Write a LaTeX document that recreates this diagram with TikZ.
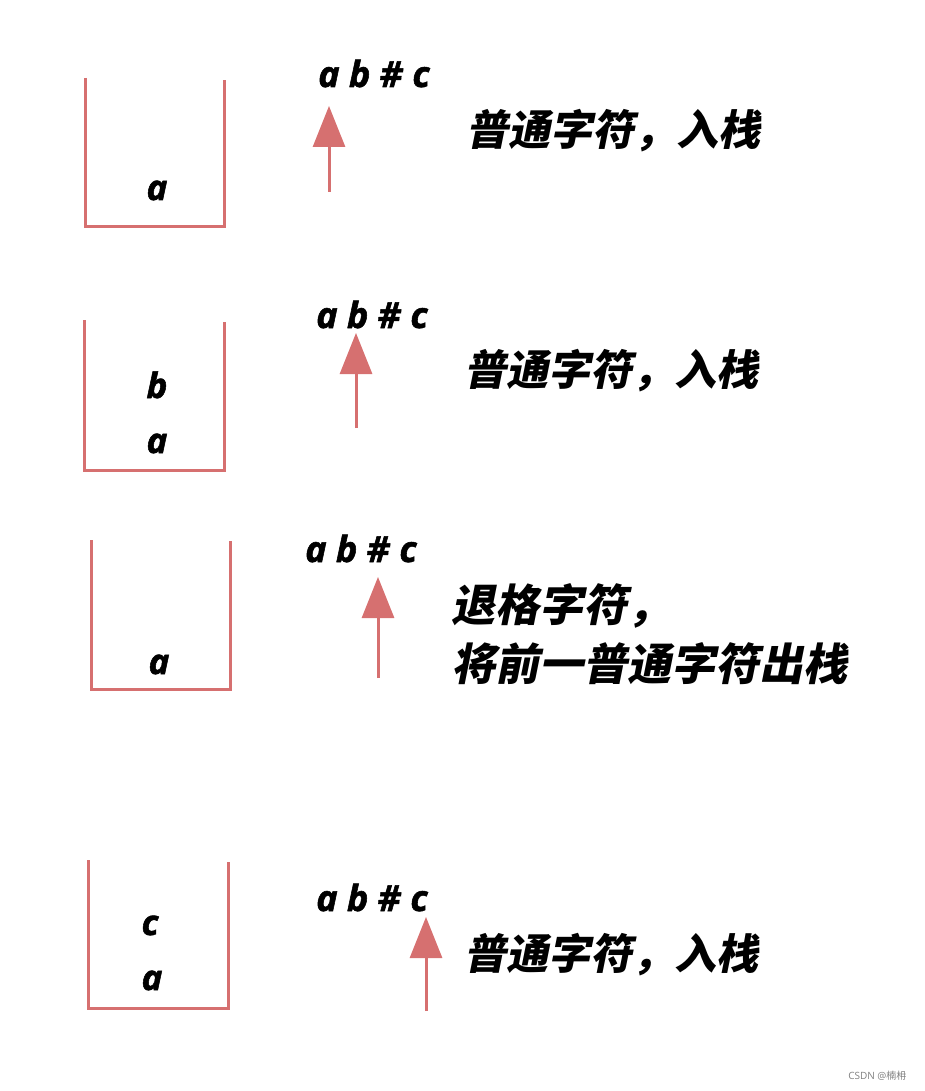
\documentclass[tikz,border=0pt]{standalone}
\usepackage{fontspec}
\setmainfont{Open Sans}[BoldItalicFont={Open Sans Bold Italic}, BoldItalicFeatures={FakeBold=1.5}]
\newfontfamily\cjk[FakeSlant=0.2]{Noto Sans CJK SC}
\newfontfamily\cjkplain{Noto Sans CJK SC}
\usetikzlibrary{arrows.meta}
\definecolor{stackred}{RGB}{214,112,112}

\begin{document}
\begin{tikzpicture}[
    x=1pt, y=-1pt,
    % Define stack style
    stack/.style={draw=stackred, line width=3pt},
    % Define arrow style
    ptr/.style={draw=stackred, line width=3pt, -{Triangle[width=32pt,length=41pt]}},
    % Letters
    letter/.style={font=\bfseries\itshape\fontsize{35}{40}\selectfont, anchor=base, inner sep=0pt},
    word/.style={font=\bfseries\itshape\fontsize{36}{40}\selectfont, anchor=base, inner sep=0pt},
    note/.style={font=\cjk\bfseries\fontsize{42}{59}\selectfont, anchor=west, inner sep=0pt, align=left}
]
    \useasboundingbox (0,0) rectangle (924,1091);

    % Row 1
    \draw[stack] (85,78) -- (85,227) -- (224,227) -- (224,80);
    \node[letter] (s1a) at (157,200) {a};
    \node[word] (in1) at (374,87) {a b \# c};
    \coordinate (t1) at (329,192);
    \coordinate (h1) at (329,106);
    \draw[ptr] (t1) -- (h1);
    \node[note] (n1) at (466,131) {普通字符，入栈};

    % Row 2
    \draw[stack] (84,320) -- (84,470) -- (224,470) -- (224,322);
    \node[letter] (s2b) at (157,398) {b};
    \node[letter] (s2a) at (157,453) {a};
    \node[word] (in2) at (372,328) {a b \# c};
    \coordinate (t2) at (356,428);
    \coordinate (h2) at (356,333);
    \draw[ptr] (t2) -- (h2);
    \node[note] (n2) at (464,371) {普通字符，入栈};

    % Row 3
    \draw[stack] (91,540) -- (91,689) -- (230,689) -- (230,541);
    \node[letter] (s3a) at (159,674) {a};
    \node[word] (in3) at (361,562) {a b \# c};
    \coordinate (t3) at (378,678);
    \coordinate (h3) at (378,577);
    \draw[ptr] (t3) -- (h3);
    \node[note, font=\cjk\bfseries\fontsize{44}{59}\selectfont] (n3) at (451,634) {退格字符，\\将前一普通字符出栈};

    % Row 4
    \draw[stack] (88,860) -- (88,1008) -- (228,1008) -- (228,862);
    \node[letter] (s4c) at (150,935) {c};
    \node[letter] (s4a) at (152,990) {a};
    \node[word] (in4) at (372,911) {a b \# c};
    \coordinate (t4) at (426,1011);
    \coordinate (h4) at (426,917);
    \draw[ptr] (t4) -- (h4);
    \node[note] (n4) at (464,955) {普通字符，入栈};

    % Watermark
    \node[anchor=east, text=gray, font=\fontsize{10}{12}\selectfont] (mark) at (910,1076) {CSDN @{\cjkplain 楠枏}};
\end{tikzpicture}
\end{document}
